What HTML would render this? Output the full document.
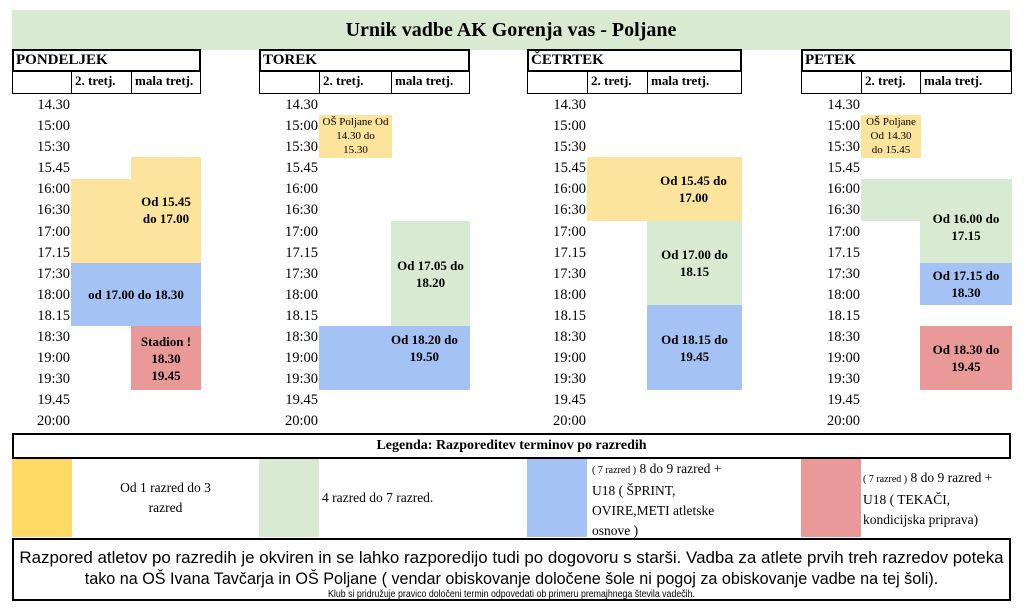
<!DOCTYPE html>
<html><head><meta charset="utf-8"><style>
*{margin:0;padding:0;box-sizing:border-box}
body{width:1024px;height:611px;background:#fff;position:relative;overflow:hidden;font-family:"Liberation Serif",serif;color:#000}
.a{position:absolute}
.title{left:12px;top:10px;width:998px;height:40px;background:#d9ead3;font-weight:bold;font-size:20px;text-align:center;line-height:40px}
.hd{border:2px solid #000;font-weight:bold;font-size:15px;padding-left:2px;line-height:18px}
.sub{border:1px solid #000;border-top:none;font-weight:bold;font-size:13px;line-height:20px;padding-left:3px}
.t{font-size:14.5px;text-align:right;width:60px;line-height:21.1px}
.y{background:#fde49c}.g{background:#d9ead3}.b{background:#a4c2f4}.r{background:#ea9999}
.lab{font-weight:bold;font-size:13px;text-align:center;line-height:17px;display:flex;align-items:center;justify-content:center}
.sm{font-size:11px;font-weight:normal;line-height:14px;text-align:center}
.lt{font-size:13.5px;line-height:20px}
</style></head><body>
<div class="a title">Urnik vadbe AK Gorenja vas - Poljane</div>

<div class="a hd" style="left:12px;top:49px;width:189px;height:23px">PONDELJEK</div>
<div class="a sub" style="left:12px;top:71px;width:60px;height:23px"></div>
<div class="a sub" style="left:71px;top:71px;width:61px;height:23px">2. tretj.</div>
<div class="a sub" style="left:131px;top:71px;width:70px;height:23px">mala tretj.</div>

<div class="a hd" style="left:259px;top:49px;width:211px;height:23px">TOREK</div>
<div class="a sub" style="left:259px;top:71px;width:61px;height:23px"></div>
<div class="a sub" style="left:319px;top:71px;width:73px;height:23px">2. tretj.</div>
<div class="a sub" style="left:391px;top:71px;width:79px;height:23px">mala tretj.</div>

<div class="a hd" style="left:527px;top:49px;width:215px;height:23px">ČETRTEK</div>
<div class="a sub" style="left:527px;top:71px;width:61px;height:23px"></div>
<div class="a sub" style="left:587px;top:71px;width:61px;height:23px">2. tretj.</div>
<div class="a sub" style="left:647px;top:71px;width:95px;height:23px">mala tretj.</div>

<div class="a hd" style="left:801px;top:49px;width:211px;height:23px">PETEK</div>
<div class="a sub" style="left:801px;top:71px;width:61px;height:23px"></div>
<div class="a sub" style="left:861px;top:71px;width:60px;height:23px">2. tretj.</div>
<div class="a sub" style="left:920px;top:71px;width:92px;height:23px">mala tretj.</div>

<div class="a y" style="left:131px;top:157px;width:70px;height:106px"></div>
<div class="a y" style="left:71px;top:179px;width:61px;height:84px"></div>
<div class="a lab" style="left:131px;top:185px;width:70px;height:50px">Od 15.45<br>do 17.00</div>
<div class="a b lab" style="left:71px;top:263px;width:130px;height:63px">od 17.00 do 18.30</div>
<div class="a r lab" style="left:131px;top:326px;width:70px;height:64px">Stadion !<br>18.30<br>19.45</div>

<div class="a y sm" style="left:319px;top:115px;width:73px;height:43px;padding-top:0">OŠ Poljane Od<br>14.30 do<br>15.30</div>
<div class="a g lab" style="left:391px;top:221px;width:79px;height:105px">Od 17.05 do<br>18.20</div>
<div class="a b" style="left:319px;top:326px;width:73px;height:64px"></div>
<div class="a b lab" style="left:391px;top:326px;width:79px;height:64px;justify-content:flex-start;align-items:flex-start;padding-top:5px">Od 18.20 do<br>19.50</div>

<div class="a y lab" style="left:587px;top:157px;width:155px;height:64px;padding-left:58px">Od 15.45 do<br>17.00</div>
<div class="a g lab" style="left:647px;top:221px;width:95px;height:84px">Od 17.00 do<br>18.15</div>
<div class="a b lab" style="left:647px;top:305px;width:95px;height:85px">Od 18.15 do<br>19.45</div>

<div class="a y sm" style="left:861px;top:115px;width:60px;height:43px">OŠ Poljane<br>Od 14.30<br>do 15.45</div>
<div class="a g" style="left:861px;top:179px;width:60px;height:42px"></div>
<div class="a g lab" style="left:920px;top:179px;width:92px;height:84px;padding-top:12px">Od 16.00 do<br>17.15</div>
<div class="a b lab" style="left:920px;top:263px;width:92px;height:42px">Od 17.15 do<br>18.30</div>
<div class="a r lab" style="left:920px;top:326px;width:92px;height:64px">Od 18.30 do<br>19.45</div>

<div class="a" style="left:10px;top:95px">
<div class="t">14.30</div><div class="t">15:00</div><div class="t">15:30</div><div class="t">15.45</div><div class="t">16:00</div><div class="t">16:30</div><div class="t">17:00</div><div class="t">17.15</div><div class="t">17:30</div><div class="t">18:00</div><div class="t">18.15</div><div class="t">18:30</div><div class="t">19:00</div><div class="t">19:30</div><div class="t">19.45</div><div class="t">20:00</div></div>
<div class="a" style="left:258px;top:95px">
<div class="t">14.30</div><div class="t">15:00</div><div class="t">15:30</div><div class="t">15.45</div><div class="t">16:00</div><div class="t">16:30</div><div class="t">17:00</div><div class="t">17.15</div><div class="t">17:30</div><div class="t">18:00</div><div class="t">18.15</div><div class="t">18:30</div><div class="t">19:00</div><div class="t">19:30</div><div class="t">19.45</div><div class="t">20:00</div></div>
<div class="a" style="left:526px;top:95px">
<div class="t">14.30</div><div class="t">15:00</div><div class="t">15:30</div><div class="t">15.45</div><div class="t">16:00</div><div class="t">16:30</div><div class="t">17:00</div><div class="t">17.15</div><div class="t">17:30</div><div class="t">18:00</div><div class="t">18.15</div><div class="t">18:30</div><div class="t">19:00</div><div class="t">19:30</div><div class="t">19.45</div><div class="t">20:00</div></div>
<div class="a" style="left:800px;top:95px">
<div class="t">14.30</div><div class="t">15:00</div><div class="t">15:30</div><div class="t">15.45</div><div class="t">16:00</div><div class="t">16:30</div><div class="t">17:00</div><div class="t">17.15</div><div class="t">17:30</div><div class="t">18:00</div><div class="t">18.15</div><div class="t">18:30</div><div class="t">19:00</div><div class="t">19:30</div><div class="t">19.45</div><div class="t">20:00</div></div>

<div class="a" style="left:12px;top:433px;width:999px;height:26px;border:2px solid #000;font-weight:bold;font-size:14px;text-align:center;line-height:22px">Legenda: Razporeditev terminov po razredih</div>
<div class="a" style="left:12px;top:459px;width:60px;height:78px;background:#ffd966"></div>
<div class="a lt" style="left:72px;top:478px;width:187px;text-align:center">Od 1 razred do 3<br>razred</div>
<div class="a" style="left:259px;top:459px;width:60px;height:78px;background:#d9ead3"></div>
<div class="a lt" style="left:322px;top:488px">4 razred do 7 razred.</div>
<div class="a" style="left:527px;top:459px;width:60px;height:78px;background:#a4c2f4"></div>
<div class="a lt" style="left:592px;top:459px"><span style="font-size:10px">( 7 razred )</span> 8 do 9 razred +<br>U18 ( ŠPRINT,<br>OVIRE,METI atletske<br>osnove )</div>
<div class="a" style="left:801px;top:459px;width:60px;height:78px;background:#ea9999"></div>
<div class="a lt" style="left:863px;top:468px"><span style="font-size:10px">( 7 razred )</span> 8 do 9 razred +<br>U18 ( TEKAČI,<br>kondicijska priprava)</div>

<div class="a" style="left:12px;top:538px;width:999px;height:63px;border:2px solid #000;font-family:'Liberation Sans',sans-serif;text-align:center;white-space:nowrap">
<div style="font-size:17px;line-height:21px;margin-top:7px;transform:scaleX(0.995);transform-origin:center">Razpored atletov po razredih je okviren in se lahko razporedijo tudi po dogovoru s starši. Vadba za atlete prvih treh razredov poteka</div>
<div style="font-size:17px;line-height:21px;transform:scaleX(0.95);transform-origin:center">tako na OŠ Ivana Tavčarja in OŠ Poljane ( vendar obiskovanje določene šole ni pogoj za obiskovanje vadbe na tej šoli).</div>
<div style="font-size:10px;line-height:12px;transform:scaleX(0.88);transform-origin:center">Klub si pridružuje pravico določeni termin odpovedati ob primeru premajhnega števila vadečih.</div>
</div>
</body></html>
